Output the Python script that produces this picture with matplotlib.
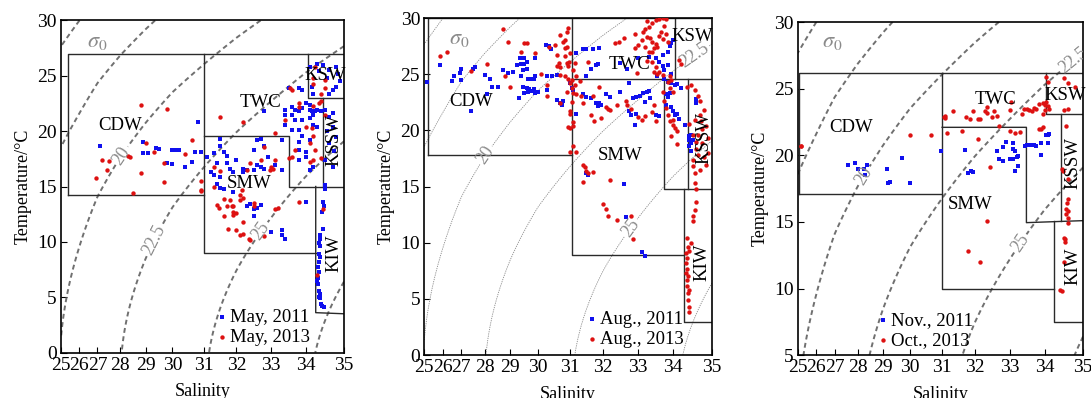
import numpy as np
import matplotlib

matplotlib.use("Agg")
import matplotlib.pyplot as plt

plt.rcParams["font.family"] = ["Liberation Serif", "DejaVu Serif"]
plt.rcParams["mathtext.fontset"] = "stix"

SAL_TICKS = [25, 26, 27, 28, 29, 30, 31, 32, 33, 34, 35]
SAL_POS = [0.0, 0.065, 0.129, 0.210, 0.299, 0.394, 0.506, 0.620, 0.743, 0.865, 1.0]

SIGMA_PLAIN = [15, 17.5, 27.5]
SIGMA_LABELLED = [20, 22.5, 25]

# ---- May (2011 blue, 2013 red) ----
MAY_2011 = [
    (27.1, 18.7), (28.9, 19.0), (28.9, 18.0), (29.1, 18.0), (29.4, 18.5), (29.5, 18.4), (30.0, 18.3),
    (30.1, 18.3), (30.2, 18.3), (29.8, 17.1), (30.0, 17.0), (30.4, 16.8), (30.7, 18.1), (30.6, 17.2),
    (30.8, 20.8), (30.9, 18.1), (31.3, 18.0),
    (31.5, 19.3), (31.5, 18.7), (31.3, 18.0), (31.6, 18.1), (31.7, 17.8), (31.4, 17.1), (31.1, 17.7),
    (31.2, 16.3), (31.3, 16.0), (31.5, 15.9), (31.7, 17.1), (31.8, 16.6), (31.9, 16.3), (32.0, 17.4),
    (32.2, 16.6), (32.2, 16.3), (32.3, 16.5), (32.5, 18.3), (32.6, 19.2), (32.7, 19.3), (32.8, 18.7),
    (32.9, 17.7), (32.6, 16.9), (32.5, 16.5), (32.7, 16.8), (32.8, 16.6), (33.1, 16.9), (33.3, 19.2),
    (33.3, 16.5), (32.8, 21.8), (33.4, 21.9), (33.4, 21.5), (33.6, 22.2), (33.6, 21.5), (33.7, 21.0),
    (33.7, 21.9), (33.8, 21.8), (33.9, 22.1), (34.0, 22.5), (34.1, 21.9), (34.1, 22.4), (34.15, 21.8),
    (34.25, 21.8), (34.3, 21.9), (34.4, 21.8), (34.2, 21.5), (34.1, 21.2), (33.9, 21.0), (33.4, 20.6),
    (33.6, 20.1), (33.8, 20.1), (33.5, 23.9), (33.8, 23.9), (33.9, 23.7), (33.8, 19.0), (33.8, 18.3),
    (34.0, 18.1), (34.0, 17.7), (34.1, 16.5), (34.2, 16.8), (33.8, 17.4), (33.9, 19.6), (34.1, 19.2),
    (34.3, 20.4), (34.2, 20.6),
    (34.1, 25.8), (34.3, 26.1), (34.45, 26.0), (34.6, 25.5), (34.8, 25.8), (34.85, 25.2), (34.7, 23.7),
    (34.8, 24.0), (34.6, 23.4), (34.2, 23.4), (34.15, 24.0), (34.35, 25.4), (34.55, 24.8), (34.9, 24.5),
    (34.5, 21.9), (34.6, 21.3), (34.7, 21.6), (34.7, 20.4), (34.8, 19.5), (34.6, 18.9), (34.5, 17.4),
    (34.7, 16.8), (34.5, 15.1), (34.55, 20.0), (34.75, 18.2),
    (31.9, 14.5), (32.3, 13.2), (32.5, 13.0), (32.7, 13.3), (34.0, 13.6), (32.5, 12.3), (33.0, 10.9),
    (33.3, 11.1), (33.3, 10.6), (33.4, 10.3), (32.4, 13.4), (32.6, 13.1), (31.6, 14.8), (31.4, 15.2),
    (31.5, 14.9),
    (34.5, 14.8), (34.45, 13.6), (34.47, 13.2), (34.42, 12.7), (34.44, 11.2), (34.38, 10.6),
    (34.38, 10.3), (34.37, 9.6), (34.35, 9.9), (34.35, 8.9), (34.37, 8.6), (34.35, 8.2), (34.33, 7.7),
    (34.35, 7.3), (34.32, 6.7), (34.3, 6.5), (34.33, 6.2), (34.35, 5.6), (34.37, 5.3), (34.38, 4.9),
    (34.4, 4.4), (34.42, 4.2), (34.48, 4.1), (34.35, 5.0),
]
MAY_2013 = [
    (26.9, 15.8), (27.2, 17.4), (27.4, 16.5), (27.5, 17.3), (28.3, 17.8), (28.4, 17.7), (28.8, 22.4),
    (28.8, 16.2), (28.5, 14.4), (29.0, 18.9), (29.3, 18.1), (29.7, 17.1), (29.8, 22.0), (29.7, 15.4),
    (30.4, 17.9), (30.6, 19.2), (30.9, 15.5), (30.9, 14.6),
    (31.5, 21.3), (33.1, 19.8), (32.8, 18.6), (33.7, 18.3), (33.6, 17.7), (33.5, 17.6), (32.7, 17.4),
    (32.4, 17.1), (33.1, 17.4), (33.0, 16.8), (33.05, 16.6), (32.95, 16.5), (32.3, 16.5), (31.3, 16.8),
    (31.5, 16.4), (33.4, 21.0), (33.8, 22.5), (33.6, 23.7), (34.4, 23.4), (34.4, 22.7), (34.35, 22.5),
    (34.2, 22.3), (34.0, 20.4), (34.15, 20.3), (34.1, 18.9), (34.25, 18.3), (34.2, 17.4), (34.1, 17.2),
    (33.8, 22.2), (33.55, 23.9), (34.5, 21.5), (34.4, 17.6), (34.2, 19.6), (32.2, 20.8), (31.3, 15.0),
    (34.2, 24.8), (34.2, 24.3), (34.5, 24.6), (34.5, 23.9), (34.25, 25.8),
    (30.9, 14.7), (31.4, 13.3), (31.45, 13.1), (31.6, 13.9), (31.7, 13.2), (31.8, 13.8), (31.85, 13.2),
    (31.9, 13.2), (31.9, 12.7), (32.0, 12.6), (32.1, 13.8), (32.1, 14.2), (32.15, 14.7), (32.2, 14.0),
    (32.5, 13.5), (32.5, 13.2), (31.6, 12.3), (31.9, 12.4), (32.2, 11.8), (31.75, 11.2), (32.0, 11.1),
    (32.1, 10.6), (32.2, 10.7), (32.35, 10.3), (32.4, 10.2), (32.8, 10.5), (33.1, 13.0), (33.8, 13.6),
    (34.3, 7.0), (34.45, 13.0), (33.2, 13.1),
]

# ---- August (2011 blue, 2013 red) ----
AUG_2011 = [
    (25.15, 24.3), (25.85, 25.8), (26.5, 24.4), (26.6, 24.8), (26.9, 25.1), (27.0, 24.5), (27.0, 25.5),
    (27.5, 25.5), (27.6, 25.6), (28.0, 24.9), (28.2, 24.6), (28.3, 23.9), (28.5, 23.9), (28.7, 25.4),
    (28.9, 25.1), (29.1, 25.2), (29.25, 25.8), (29.3, 22.9), (29.35, 26.4), (29.4, 25.9), (29.5, 25.9),
    (29.6, 25.5), (29.6, 26.1), (29.5, 26.4), (29.45, 25.4), (29.4, 24.8), (29.65, 24.6), (29.75, 24.6),
    (29.85, 24.6), (29.9, 24.8), (29.45, 23.9), (29.6, 23.8), (29.7, 23.7), (29.85, 23.7), (29.5, 23.3),
    (29.65, 23.4), (29.75, 23.5), (29.9, 23.3), (30.0, 23.4), (29.9, 26.4), (30.25, 27.6), (30.35, 27.55),
    (30.4, 27.2), (30.3, 24.8), (30.45, 24.8), (30.3, 23.6), (30.6, 22.7), (30.7, 22.4), (30.75, 22.3),
    (30.8, 22.6), (31.0, 24.2), (31.05, 23.8), (30.6, 24.9), (27.4, 21.7), (28.1, 23.2),
    (31.4, 27.2), (31.5, 27.2), (31.7, 27.2), (31.9, 27.3), (31.2, 26.9), (31.8, 25.8), (31.85, 25.9),
    (31.65, 25.5), (31.5, 24.8), (32.5, 26.0), (32.7, 25.5), (33.0, 26.4), (33.3, 26.5), (33.5, 26.4),
    (33.6, 26.1), (33.7, 25.7), (33.75, 25.4), (33.85, 25.8), (33.95, 25.0), (33.7, 26.7), (33.85, 27.0),
    (33.9, 27.5), (33.95, 27.8), (34.0, 28.0), (33.55, 24.8), (33.75, 24.6), (33.85, 24.3), (33.95, 24.2),
    (34.05, 24.0), (34.1, 24.1), (34.2, 23.8),
    (31.1, 23.6), (31.4, 23.2), (31.5, 23.0), (31.65, 22.9), (31.8, 22.4), (31.85, 22.3), (31.9, 22.4),
    (31.95, 22.3), (31.85, 22.2), (32.1, 23.2), (32.2, 23.0), (32.5, 23.45), (32.75, 24.2), (32.85, 22.9),
    (32.95, 23.0), (33.05, 23.1), (33.15, 23.3), (33.25, 23.4), (33.3, 23.5), (33.35, 22.9), (33.2, 22.5),
    (32.75, 21.7), (32.8, 21.4), (32.95, 21.5), (32.9, 20.5), (33.5, 21.4), (33.6, 21.3), (33.8, 23.2),
    (33.85, 23.0), (33.9, 23.3), (33.95, 22.1), (34.0, 21.7), (34.05, 21.4), (34.1, 21.5), (31.2, 21.5),
    (31.5, 16.2), (31.55, 16.0), (32.6, 15.2), (32.65, 12.3), (33.1, 9.2), (33.2, 8.8),
    (33.8, 22.3), (34.6, 22.4), (34.6, 22.8), (34.45, 19.6), (34.4, 19.1), (34.5, 19.1), (34.4, 18.6),
    (34.45, 18.2), (34.4, 19.5), (34.45, 18.9), (34.15, 21.0), (34.3, 20.5),
]
AUG_2013 = [
    (25.85, 26.6), (27.4, 25.3), (28.1, 25.9), (28.8, 24.8), (28.7, 29.0), (28.9, 27.9), (29.4, 27.0),
    (29.5, 27.75), (29.6, 27.75), (29.9, 26.9), (30.3, 24.0), (30.3, 23.1), (30.35, 27.4), (30.55, 27.6),
    (30.6, 26.7), (30.65, 26.0), (30.6, 25.7), (30.7, 25.6), (30.7, 28.5), (30.85, 28.0), (30.9, 27.4),
    (30.95, 29.1), (30.85, 26.6), (30.9, 26.0), (30.95, 25.7), (30.7, 24.9), (30.85, 24.8), (30.95, 24.6),
    (31.0, 24.2), (30.9, 23.4), (30.7, 22.4), (31.0, 21.7), (31.05, 22.5), (31.1, 20.7), (31.1, 20.4),
    (31.0, 20.2), (31.15, 26.0), (31.1, 25.4), (31.15, 24.0), (31.2, 23.2), (30.9, 28.8), (30.8, 27.9),
    (30.85, 27.3), (31.0, 26.9), (31.0, 21.5), (30.95, 20.3), (31.1, 18.6), (31.0, 18.1), (26.2, 27.0),
    (29.0, 23.9), (30.1, 25.0),
    (33.25, 29.7), (33.2, 29.0), (33.4, 29.6), (33.5, 29.8), (33.6, 29.9), (33.7, 30.0), (33.8, 29.9),
    (33.1, 28.0), (33.25, 28.3), (33.35, 28.2), (33.4, 27.9), (33.5, 27.7), (33.45, 27.3), (33.55, 27.4),
    (33.4, 27.0), (33.3, 27.0), (33.2, 27.4), (33.6, 28.4), (33.7, 28.1), (33.0, 27.6), (32.9, 27.3),
    (33.25, 26.2), (33.4, 26.1), (33.5, 25.6), (33.45, 25.2), (33.6, 25.2), (33.7, 24.9), (33.55, 25.0),
    (33.85, 24.3), (33.9, 24.8), (33.95, 24.5), (33.9, 23.8), (34.0, 23.4), (32.35, 27.75), (32.45, 27.9),
    (32.6, 28.2), (32.9, 28.6), (31.55, 26.1), (30.98, 26.1), (31.05, 24.5), (31.3, 24.4), (31.2, 24.8),
    (32.97, 25.1), (34.15, 26.3), (34.2, 25.9), (33.75, 29.3), (33.65, 28.8), (33.8, 28.6), (33.85, 27.9),
    (33.3, 29.2), (33.15, 28.8),
    (31.05, 23.75), (31.1, 23.3), (31.35, 23.1), (31.4, 22.4), (31.7, 23.1), (31.65, 21.4), (31.75, 20.8),
    (31.95, 21.1), (32.1, 22.1), (32.15, 21.9), (32.2, 21.8), (31.9, 23.9), (32.4, 22.3), (32.65, 22.6),
    (32.7, 22.3), (32.8, 21.9), (33.0, 21.2), (33.1, 20.9), (33.2, 21.3), (33.45, 22.3), (33.4, 21.6),
    (33.5, 20.8), (33.7, 23.45), (33.75, 22.6), (33.8, 22.0), (33.85, 21.4), (33.9, 20.8), (34.0, 20.5),
    (34.05, 20.2), (34.1, 19.9), (31.4, 16.9), (31.45, 16.7), (31.5, 16.4), (31.55, 16.2), (31.7, 16.3),
    (31.4, 15.4), (32.2, 15.6), (32.0, 13.4), (32.1, 13.0), (32.15, 12.4), (32.4, 12.0), (32.8, 12.4),
    (32.85, 10.3), (31.2, 18.1), (34.1, 18.8), (34.0, 20.9), (33.95, 19.5),
    (34.35, 23.9), (34.45, 24.0), (34.55, 23.6), (34.65, 23.1), (34.7, 22.6), (34.7, 21.4), (34.72, 20.8),
    (34.75, 20.1), (34.65, 19.6), (34.6, 19.0), (34.5, 19.6), (34.55, 20.9), (34.4, 20.6), (34.8, 21.8),
    (34.85, 20.4), (34.6, 18.3), (34.65, 17.8), (34.5, 17.4), (34.52, 16.8), (34.55, 16.2), (34.55, 15.3),
    (34.58, 14.8), (34.6, 13.65), (34.55, 12.9), (34.52, 12.4), (34.5, 11.9), (34.35, 10.4), (34.37, 9.65),
    (34.34, 9.05), (34.36, 8.6), (34.33, 8.2), (34.35, 7.7), (34.34, 7.3), (34.36, 6.7), (34.35, 6.1),
    (34.37, 5.5), (34.38, 4.9), (34.4, 4.3), (34.42, 3.85), (34.45, 10.0), (34.4, 9.3), (34.38, 7.0),
    (34.4, 5.8), (34.75, 18.9), (34.8, 17.6), (34.7, 16.5), (34.9, 19.3), (34.9, 18.0), (34.85, 16.9),
]

# ---- November 2011 (blue) / October 2013 (red) ----
NOV_2011 = [
    (27.6, 19.3), (27.9, 19.4), (28.0, 19.0), (28.25, 19.0), (28.35, 19.3), (28.3, 18.5), (29.15, 19.0),
    (29.2, 17.9), (29.25, 18.0), (29.7, 19.8), (30.0, 17.9), (30.95, 20.3), (31.7, 20.4), (31.8, 18.7),
    (31.9, 18.8), (31.95, 18.75), (32.65, 20.3), (32.7, 19.7), (32.8, 19.6), (32.8, 20.6), (32.9, 21.0),
    (33.0, 19.7), (33.05, 19.7), (33.1, 19.75), (33.15, 18.8), (33.1, 20.9), (33.1, 20.5), (33.15, 20.3),
    (33.2, 19.85), (33.25, 19.95), (33.25, 19.2), (33.45, 20.7), (33.5, 20.75), (33.55, 20.75),
    (33.6, 20.75), (33.65, 20.8), (33.7, 20.8), (33.75, 20.7), (33.9, 20.0), (33.9, 20.9), (34.05, 21.5),
    (34.08, 21.55), (34.12, 21.6), (34.1, 20.9),
]
OCT_2013 = [
    (25.15, 20.7), (25.2, 20.7), (30.0, 21.5), (30.65, 21.5), (31.05, 22.9), (31.1, 22.95), (31.08, 22.8),
    (31.35, 23.3), (31.15, 21.7), (31.75, 22.9), (31.85, 22.7), (31.95, 23.3), (32.1, 22.7), (32.15, 22.7),
    (32.3, 23.3), (32.35, 23.2), (32.35, 23.6), (32.5, 22.9), (32.55, 23.3), (32.65, 22.95), (31.6, 21.8),
    (32.1, 21.2), (32.45, 19.1), (32.7, 22.2), (33.0, 21.85), (33.15, 21.7), (33.3, 21.75), (33.0, 23.4),
    (33.05, 24.0), (33.35, 23.1), (33.4, 23.5), (33.5, 23.45), (33.55, 23.4), (33.65, 23.3), (33.7, 23.55),
    (33.75, 23.5), (33.85, 23.85), (33.95, 23.9), (34.0, 23.75), (34.02, 23.4), (34.05, 24.0),
    (33.95, 23.1), (33.85, 22.0), (33.9, 21.95), (33.95, 22.1), (34.05, 25.9), (34.08, 25.5), (34.5, 25.8),
    (34.6, 25.4), (34.8, 25.1), (34.5, 23.4), (34.6, 23.5), (34.1, 23.7), (34.12, 23.45), (34.55, 22.2),
    (34.45, 19.0), (34.47, 18.8), (34.6, 18.2), (34.55, 16.0), (34.57, 15.6), (34.6, 15.3), (34.5, 13.8),
    (34.52, 13.5), (32.35, 15.1), (31.8, 12.8), (32.15, 12.0), (34.6, 15.8), (34.6, 14.9), (34.52, 13.7),
    (34.5, 12.0), (34.4, 9.9), (34.45, 9.85), (34.58, 16.4), (34.6, 16.7),
]

# water-mass boundaries (S, T) polylines
MAY_BOXES = [
    [(25.4, 14.2), (25.4, 27), (35, 27)],
    [(25.4, 14.2), (31, 14.2)],
    [(31, 27), (31, 9), (34.26, 9)],
    [(31, 19.6), (33.52, 19.6), (33.52, 15), (35, 15)],
    [(34.06, 27), (34.06, 23), (35, 23)],
    [(34.46, 23), (34.46, 15)],
    [(34.26, 15), (34.26, 3.6), (35, 3.5)],
]
AUG_BOXES = [
    [(25.2, 17.8), (25.2, 30), (35, 30)],
    [(25.2, 17.8), (31.05, 17.8)],
    [(31.05, 30), (31.05, 8.9), (34.27, 8.9)],
    [(31.05, 24.6), (35, 24.6)],
    [(34.04, 30), (34.04, 24.6)],
    [(33.74, 24.6), (33.74, 14.8), (35, 14.8)],
    [(34.37, 24.6), (34.37, 14.8)],
    [(34.27, 14.8), (34.27, 2.94), (35, 2.94)],
]
NOV_BOXES = [
    [(25.07, 17.1), (25.07, 26.2), (35, 26.2)],
    [(25.07, 17.1), (31, 17.1)],
    [(31, 26.2), (31, 10), (34.24, 10)],
    [(31, 22.1), (33.48, 22.1), (33.48, 14.95), (35, 15.1)],
    [(34.03, 26.2), (34.03, 23.1), (35, 23.1)],
    [(34.42, 23.1), (34.42, 15.1)],
    [(34.24, 15.1), (34.24, 7.5), (35, 7.5)],
]

# label name, S, T, rotation
MAY_NAMES = [("CDW", 28.0, 20.5, 0), ("TWC", 32.7, 22.6, 0), ("KSW", 34.5, 25.0, 0),
             ("KSSW", 34.75, 19.2, 90), ("SMW", 32.37, 15.3, 0), ("KIW", 34.75, 9.0, 90)]
AUG_NAMES = [("CDW", 27.4, 22.6, 0), ("TWC", 32.75, 25.9, 0), ("KSW", 34.5, 28.4, 0),
             ("KSSW", 34.8, 19.3, 90), ("SMW", 32.5, 17.8, 0), ("KIW", 34.75, 8.3, 90)]
NOV_NAMES = [("CDW", 27.7, 22.1, 0), ("TWC", 32.6, 24.2, 0), ("KSW", 34.55, 24.5, 0),
             ("KSSW", 34.75, 19.4, 90), ("SMW", 31.87, 16.3, 0), ("KIW", 34.75, 11.65, 90)]

SIGMA_LABEL_POS = [
    [(27.9, 18.0), (29.2, 10.3), (32.7, 11.0)],
    [(28.03, 17.8), (34.6, 26.4), (32.75, 11.4)],
    [(28.05, 18.7), (34.65, 27.5), (33.3, 13.4)],
]
SIGMA0_POS = [(27.0, 28.0), (26.9, 28.1), (26.9, 28.5)]


def sal_forward(s):
    return np.interp(s, SAL_TICKS, SAL_POS)


def sal_inverse(p):
    return np.interp(p, SAL_POS, SAL_TICKS)


def sigma_t(S, T):
    """One-atmosphere EOS-80 density anomaly."""
    rho_w = (999.842594 + 6.793952e-2 * T - 9.095290e-3 * T**2 + 1.001685e-4 * T**3
             - 1.120083e-6 * T**4 + 6.536332e-9 * T**5)
    A = 8.24493e-1 - 4.0899e-3 * T + 7.6438e-5 * T**2 - 8.2467e-7 * T**3 + 5.3875e-9 * T**4
    B = -5.72466e-3 + 1.0227e-4 * T - 1.6546e-6 * T**2
    C = 4.8314e-4
    return rho_w + A * S + B * S**1.5 + C * S**2 - 1000.0


def draw_panel(ax, blue, red, boxes, names, ylim, legend_labels, legend_anchor,
               dashed, label_pos, sigma0_pos):
    ax.set_xscale("function", functions=(sal_forward, sal_inverse))
    ax.set_xlim(25, 35)
    ax.set_ylim(*ylim)

    # density isolines
    ss, tt = np.meshgrid(np.linspace(25, 35, 300), np.linspace(ylim[0], 30, 200))
    sig = sigma_t(ss, tt)
    if dashed:
        style = dict(colors="#707070", linewidths=1.4, linestyles=[(0, (2.5, 1.8))])
    else:
        style = dict(colors="#8a8a8a", linewidths=0.6, linestyles=[(0, (1.5, 1.2))])
    ax.contour(ss, tt, sig, levels=SIGMA_PLAIN, **style)
    cs = ax.contour(ss, tt, sig, levels=SIGMA_LABELLED, **style)
    ax.clabel(cs, inline=True, inline_spacing=2, fontsize=13, colors="#8a8a8a",
              fmt={20: "20", 22.5: "22.5", 25: "25"}, manual=label_pos)
    ax.text(sigma0_pos[0], sigma0_pos[1], r"$\sigma_0$", color="#8a8a8a", fontsize=16,
            ha="center", va="center")

    for line in boxes:
        xs, ys = zip(*line)
        ax.plot(xs, ys, color="#2a2a2a", lw=1.0, zorder=2)

    for name, s, t, rot in names:
        ax.text(s, t, name, fontsize=13.5, ha="center", va="center", rotation=rot, zorder=4)

    bs, bt = zip(*blue)
    rs, rt = zip(*red)
    ax.scatter(bs, bt, s=8, marker="s", color="#1010ee", lw=0, label=legend_labels[0], zorder=3)
    ax.scatter(rs, rt, s=10, marker="o", color="#dd1111", lw=0, label=legend_labels[1], zorder=3)

    ax.legend(loc="lower left", bbox_to_anchor=legend_anchor, frameon=False, fontsize=13.5,
              handlelength=0.4, handletextpad=0.25, borderpad=0, borderaxespad=0,
              labelspacing=0.15, markerscale=1.0)

    ax.set_xticks(SAL_TICKS)
    ax.set_xticklabels([str(v) for v in SAL_TICKS])
    ax.set_yticks(np.arange(ylim[0], 31, 5))
    ax.tick_params(direction="in", labelsize=14, length=4, width=0.8, pad=3)
    ax.set_xlabel("Salinity", fontsize=13, labelpad=7)
    ax.set_ylabel("Temperature/°C", fontsize=13, labelpad=4)
    for sp in ax.spines.values():
        sp.set_linewidth(1.2)


fig = plt.figure(figsize=(10.91, 3.98), dpi=100)
ax1 = fig.add_axes([0.0559, 0.1143, 0.2594, 0.8342])
ax2 = fig.add_axes([0.3889, 0.1080, 0.2637, 0.8467])
ax3 = fig.add_axes([0.7312, 0.1073, 0.2615, 0.8374])

draw_panel(ax1, MAY_2011, MAY_2013, MAY_BOXES, MAY_NAMES, (0, 30),
           ("May, 2011", "May, 2013"), (0.555, 0.02), True, SIGMA_LABEL_POS[0], SIGMA0_POS[0])
draw_panel(ax2, AUG_2011, AUG_2013, AUG_BOXES, AUG_NAMES, (0, 30),
           ("Aug., 2011", "Aug., 2013"), (0.57, 0.02), False, SIGMA_LABEL_POS[1], SIGMA0_POS[1])
draw_panel(ax3, NOV_2011, OCT_2013, NOV_BOXES, NOV_NAMES, (5, 30),
           ("Nov., 2011", "Oct., 2013"), (0.285, 0.02), True, SIGMA_LABEL_POS[2], SIGMA0_POS[2])

fig.savefig("out.png", dpi=100)
